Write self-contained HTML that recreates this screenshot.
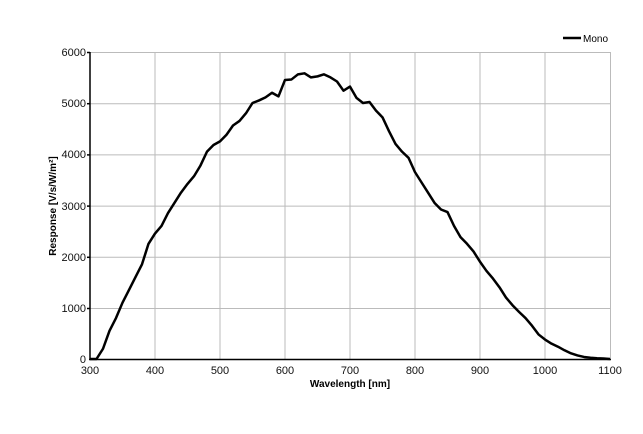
<!DOCTYPE html>
<html><head><style>
html,body{margin:0;padding:0;background:#fff;}
svg{display:block;font-family:"Liberation Sans",sans-serif;}
</style></head><body>
<svg width="643" height="434" viewBox="0 0 643 434">
<g stroke="#bbb" stroke-width="1">
<line x1="90" y1="52.5" x2="611" y2="52.5"/><line x1="90" y1="103.7" x2="611" y2="103.7"/><line x1="90" y1="154.9" x2="611" y2="154.9"/><line x1="90" y1="206.1" x2="611" y2="206.1"/><line x1="90" y1="257.3" x2="611" y2="257.3"/><line x1="90" y1="308.5" x2="611" y2="308.5"/>
<line x1="155" y1="52" x2="155" y2="359"/><line x1="220" y1="52" x2="220" y2="359"/><line x1="285" y1="52" x2="285" y2="359"/><line x1="350" y1="52" x2="350" y2="359"/><line x1="415" y1="52" x2="415" y2="359"/><line x1="480" y1="52" x2="480" y2="359"/><line x1="545" y1="52" x2="545" y2="359"/><line x1="610.5" y1="52" x2="610.5" y2="359"/>
</g>
<g stroke="#000" stroke-width="1.5">
<line x1="90" y1="52" x2="90" y2="360"/><line x1="89" y1="359.5" x2="611" y2="359.5"/>
<line x1="87" y1="52.5" x2="90" y2="52.5"/><line x1="87" y1="103.7" x2="90" y2="103.7"/><line x1="87" y1="154.9" x2="90" y2="154.9"/><line x1="87" y1="206.1" x2="90" y2="206.1"/><line x1="87" y1="257.3" x2="90" y2="257.3"/><line x1="87" y1="308.5" x2="90" y2="308.5"/>
</g>
<g font-size="11" fill="#111" text-anchor="end">
<text x="86" y="56">6000</text><text x="86" y="107">5000</text><text x="86" y="158">4000</text><text x="86" y="210">3000</text><text x="86" y="261">2000</text><text x="86" y="312">1000</text><text x="86" y="363">0</text>
</g>
<g font-size="11" fill="#111" text-anchor="middle">
<text x="90" y="374">300</text><text x="155" y="374">400</text><text x="220" y="374">500</text><text x="285" y="374">600</text><text x="350" y="374">700</text><text x="415" y="374">800</text><text x="480" y="374">900</text><text x="545" y="374">1000</text><text x="610" y="374">1100</text>
</g>
<text x="350" y="387" font-size="10" font-weight="bold" text-anchor="middle">Wavelength [nm]</text>
<text transform="translate(56,206) rotate(-90)" font-size="10" font-weight="bold" text-anchor="middle">Response [V/s/W/m²]</text>
<line x1="563" y1="38" x2="581" y2="38" stroke="#000" stroke-width="2.5"/>
<text x="583" y="42" font-size="10">Mono</text>
<g transform="matrix(0.65 0 0 -0.0512 -105 359)">
<polyline fill="none" stroke="#000" stroke-width="2.5" vector-effect="non-scaling-stroke" stroke-linejoin="round" points="300,0 310,0 320,200 330,550 340,800 350,1100 360,1350 370,1600 380,1850 390,2250 400,2450 410,2600 420,2850 430,3050 440,3250 450,3420 460,3570 470,3780 480,4050 490,4180 500,4250 510,4380 520,4560 530,4650 540,4800 550,5000 560,5050 570,5110 580,5200 590,5130 600,5450 610,5460 620,5560 630,5580 640,5500 650,5520 660,5560 670,5500 680,5420 690,5240 700,5320 710,5100 720,5000 730,5020 740,4850 750,4720 760,4450 770,4200 780,4050 790,3930 800,3650 810,3450 820,3250 830,3050 840,2920 850,2870 860,2600 870,2380 880,2250 890,2100 900,1900 910,1720 920,1570 930,1400 940,1200 950,1050 960,920 970,800 980,650 990,480 1000,380 1010,300 1020,240 1030,170 1040,110 1050,70 1060,40 1070,25 1080,15 1090,10 1100,0"/>
</g>
</svg>
</body></html>
